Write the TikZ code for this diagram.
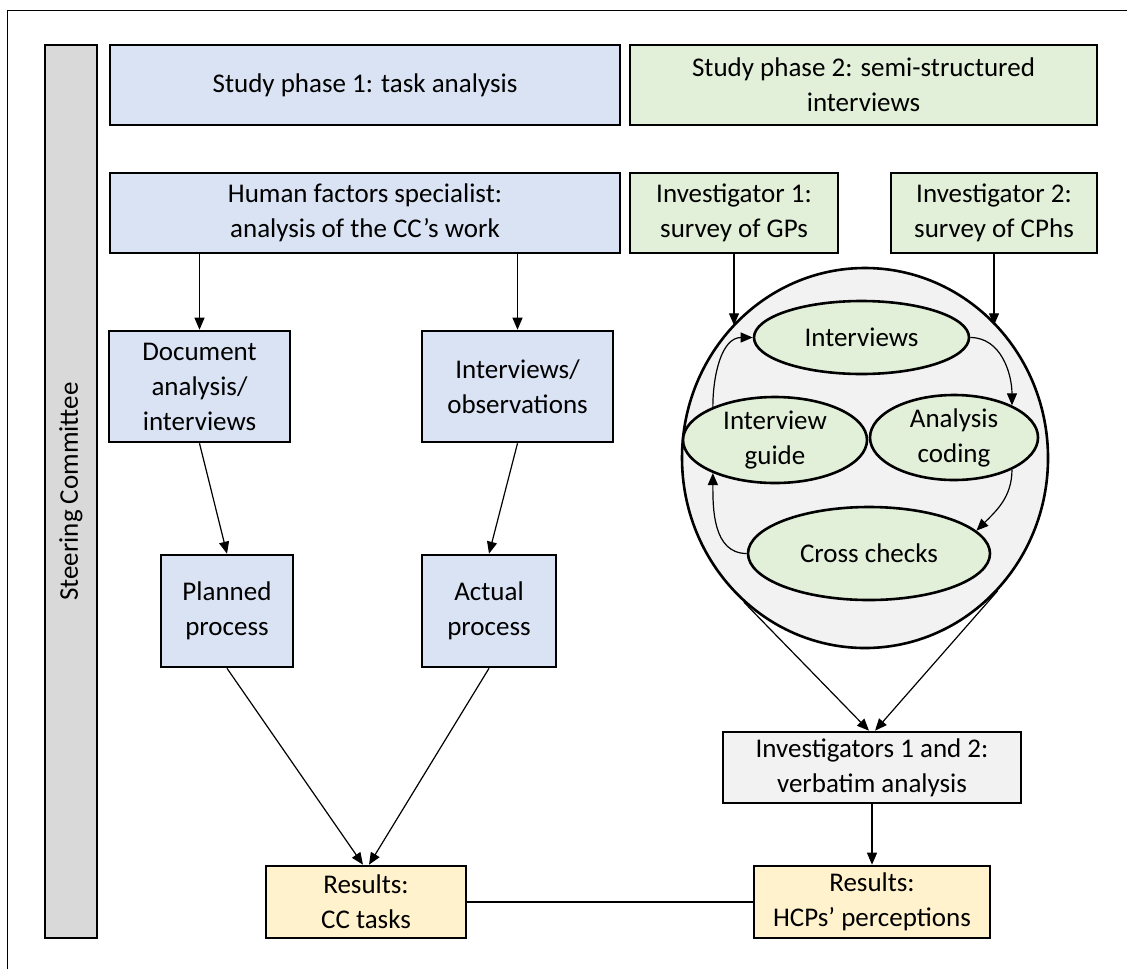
\documentclass[tikz,border=0pt]{standalone}
\usepackage{fontspec}
\setmainfont{Carlito}
\usetikzlibrary{arrows.meta,calc,shapes.geometric}

\definecolor{phaseblue}{HTML}{DAE3F3}
\definecolor{phasegreen}{HTML}{E2F0D9}
\definecolor{resultyellow}{HTML}{FFF2CC}
\definecolor{bargray}{HTML}{D9D9D9}
\definecolor{loopgray}{HTML}{F2F2F2}

\begin{document}
\begin{tikzpicture}[x=0.5pt,y=-0.5pt,
    font=\fontsize{13.5}{17.5}\selectfont,
    box/.style={draw,line width=1.3pt,align=center,inner sep=0pt},
    oval/.style={draw,ellipse,line width=1.3pt,align=center,inner sep=-4pt,fill=phasegreen},
    arr/.style={-{Triangle[length=6pt,width=5pt]},line width=0.6pt}]
        \useasboundingbox (0,0) rectangle (1127,969);

        % Frame
        \draw[line width=0.5pt] (7,969) -- (7,10) -- (1127,10);

        % Steering committee bar
        \node[box,fill=bargray,rotate=90,minimum width=446.5pt,minimum height=26pt] (steer) at (71,491.5) {Steering Committee};

        % Study phases
        \node[box,fill=phaseblue,minimum width=255pt,minimum height=40pt] (phaseone) at (365,85) {Study phase 1: task analysis};
        \node[box,fill=phasegreen,minimum width=233.5pt,minimum height=40pt] (phasetwo) at (863.5,85) {Study phase 2: semi-structured\\interviews};

        % Phase 1: task analysis
        \node[box,fill=phaseblue,minimum width=255pt,minimum height=40pt] (hf) at (365,213) {Human factors specialist:\\analysis of the CC’s work};
        \node[box,fill=phaseblue,minimum width=90.5pt,minimum height=55.5pt] (doc) at (199.5,386.5) {Document\\analysis/\\interviews};
        \node[box,fill=phaseblue,minimum width=95.5pt,minimum height=55.5pt] (iobs) at (517.5,386.5) {Interviews/\\observations};
        \node[box,fill=phaseblue,minimum width=66pt,minimum height=56pt] (plan) at (227,611) {Planned\\process};
        \node[box,fill=phaseblue,minimum width=67pt,minimum height=56pt] (act) at (489,611) {Actual\\process};

        % Phase 2: interviews
        \node[box,fill=phasegreen,minimum width=104pt,minimum height=40pt] (invone) at (734,213) {Investigator 1:\\survey of GPs};
        \node[box,fill=phasegreen,minimum width=103pt,minimum height=40pt] (invtwo) at (994,213) {Investigator 2:\\survey of CPhs};

        % Cycle
        \node[draw,ellipse,line width=1.3pt,fill=loopgray,minimum width=183pt,minimum height=190pt] (cycle) at (865,458) {};
        \node[oval,minimum width=107.5pt,minimum height=36.5pt] (ointerviews) at (861.5,337.5) {Interviews};
        \node[oval,minimum width=92pt,minimum height=43pt] (oguide) at (775,440) {Interview\\guide};
        \node[oval,minimum width=84pt,minimum height=42.5pt] (ocoding) at (954,437.5) {Analysis\\coding};
        \node[oval,minimum width=121pt,minimum height=46.5pt] (ochecks) at (869,553.5) {Cross checks};

        \node[box,fill=loopgray,minimum width=149pt,minimum height=35.5pt] (invboth) at (872,767.5) {Investigators 1 and 2:\\verbatim analysis};

        % Results
        \node[box,fill=resultyellow,minimum width=100pt,minimum height=36pt] (rescc) at (366,902) {Results:\\CC tasks};
        \node[box,fill=resultyellow,minimum width=118pt,minimum height=36pt] (reshcp) at (872,902) {Results:\\HCPs’ perceptions};

        % Arrows phase 1
        \draw[arr] (doc.north |- hf.south) -- (doc.north);
        \draw[arr] (iobs.north |- hf.south) -- (iobs.north);
        \draw[arr] (doc.south) -- (plan.north);
        \draw[arr] (iobs.south) -- (act.north);
        \draw[arr] (plan.south) -- ($(rescc.north)+(-3,0)$);
        \draw[arr] (act.south) -- ($(rescc.north)+(3,0)$);

        % Arrows phase 2
        \draw[arr] (invone.south) -- (invone.south |- cycle.135);
        \draw[arr] (invtwo.south) -- (invtwo.south |- cycle.45);
        \draw[arr] (ointerviews.east) to[out=0,in=90] (ocoding.29);
        \draw[arr] (ocoding.-29) to[out=-90,in=45] (ochecks.12);
        \draw[arr] (ochecks.west) to[out=180,in=-90] (oguide.-152);
        \draw[arr] (oguide.152) to[out=90,in=180] (ointerviews.west);
        \draw[arr] (cycle.-130) -- ($(invboth.north)+(-3,0)$);
        \draw[arr] (cycle.-45) -- ($(invboth.north)+(3,0)$);
        \draw[arr] (invboth.south) -- (reshcp.north);

        % Link between results
        \draw[line width=0.6pt] (rescc.east) -- (reshcp.west);
    \end{tikzpicture}
\end{document}
